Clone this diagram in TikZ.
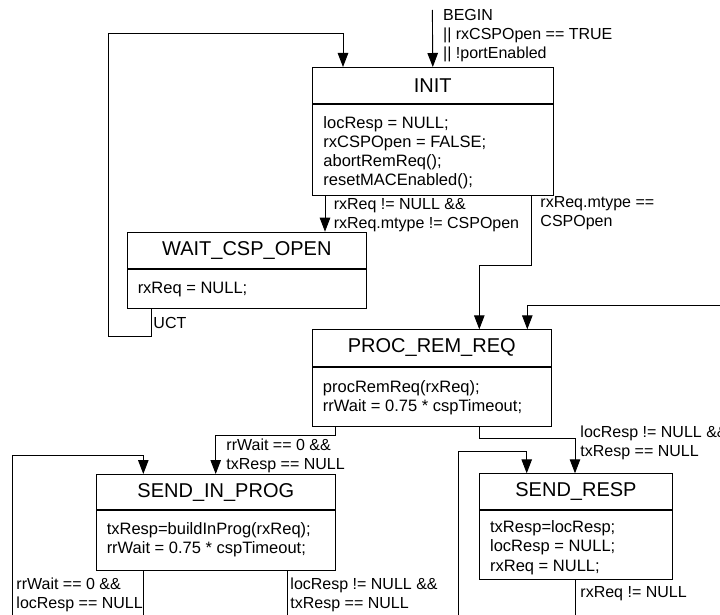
\documentclass[tikz,border=0pt]{standalone}
\usepackage{fontspec}
\setmainfont{Liberation Sans}
\usetikzlibrary{arrows.meta}
\begin{document}
\begin{tikzpicture}[x=1pt,y=-1pt,line width=0.9pt,
  hdr/.style={draw, anchor=north west, inner sep=0pt, font=\fontsize{20}{24}\selectfont},
  bodybox/.style={draw, anchor=north west, inner sep=0pt},
  btxt/.style={anchor=base west, inner sep=0pt, align=left, font=\fontsize{16.5}{19.2}\selectfont},
  lbl/.style={anchor=base west, inner sep=0pt, align=left, font=\fontsize{16}{19}\selectfont},
  arr/.style={-{Triangle[length=14pt,width=10.5pt]}}]
\useasboundingbox (0,0) rectangle (720,615);
% INIT
\node[hdr, minimum width=240.7pt, minimum height=36pt] (init) at (312,67) {INIT};
\node[bodybox, minimum width=240.7pt, minimum height=91pt] (initb) at (init.south west) {};
\node[btxt] (initt) at (323,185.8) {locResp = NULL;\\rxCSPOpen = FALSE;\\abortRemReq();\\resetMACEnabled();};
% WAIT_CSP_OPEN
\node[hdr, minimum width=239.3pt, minimum height=36pt] (wait) at (126.7,231.7) {WAIT\_CSP\_OPEN};
\node[bodybox, minimum width=239.3pt, minimum height=39pt] (waitb) at (wait.south west) {};
\node[btxt] (waitt) at (137.3,293.3) {rxReq = NULL;};
% PROC_REM_REQ
\node[hdr, minimum width=239.3pt, minimum height=36.4pt] (proc) at (311.7,329.3) {PROC\_REM\_REQ};
\node[bodybox, minimum width=239.3pt, minimum height=59.3pt] (procb) at (proc.south west) {};
\node[btxt] (proct) at (322.5,411.7) {procRemReq(rxReq);\\rrWait = 0.75 * cspTimeout;};
% SEND_IN_PROG
\node[hdr, minimum width=239.3pt, minimum height=35.3pt] (sip) at (95.7,474) {SEND\_IN\_PROG};
\node[bodybox, minimum width=239.3pt, minimum height=59.7pt] (sipb) at (sip.south west) {};
\node[btxt] (sipt) at (106.3,553.9) {txResp=buildInProg(rxReq);\\rrWait = 0.75 * cspTimeout;};
% SEND_RESP
\node[hdr, minimum width=192.4pt, minimum height=36pt] (sr) at (479.3,473.3) {SEND\_RESP};
\node[bodybox, minimum width=192.4pt, minimum height=69pt] (srb) at (sr.south west) {};
\node[btxt] (srt) at (489.7,571) {txResp=locResp;\\locResp = NULL;\\rxReq = NULL;};
% free ends
\coordinate (begin) at (432.35,10);
\coordinate (fromright) at (720,305);
\coordinate (leftin) at (12.7,615);
\coordinate (srin) at (458.3,615);
\coordinate (out1) at (143.3,615);
\coordinate (out2) at (287.3,615);
\coordinate (out3) at (575,615);
% connectors
\draw[arr] (begin) -- (init.north);
\draw[arr] (initb.south -| 325,0) -- (wait.north -| 325,0);
\draw[arr] (initb.south -| 531.7,0) |- (479.3,265) -- (proc.north -| 479.3,0);
\draw[arr] (fromright) -| (proc.north -| 527.3,0);
\draw[arr] (waitb.south -| 151,0) |- (108.7,336.7) |- (343,33) -- (init.north -| 343,0);
\draw[arr] (procb.south -| 335.5,0) |- (215.7,435) -- (sip.north -| 215.7,0);
\draw[arr] (procb.south -| 479.3,0) |- (575,438.3) -- (sr.north -| 575,0);
\draw[arr] (leftin) |- (143.3,455) -- (sip.north -| 143.3,0);
\draw[arr] (srin) |- (526.7,451) -- (sr.north -| 526.7,0);
\draw (sipb.south -| out1) -- (out1);
\draw (sipb.south -| out2) -- (out2);
\draw (srb.south -| out3) -- (out3);
% labels
\node[lbl] (lbegin) at (442.7,59) {BEGIN\\|| rxCSPOpen == TRUE\\|| !portEnabled};
\node[lbl] (lwait) at (333.3,228) {rxReq != NULL \&\&\\rxReq.mtype != CSPOpen};
\node[lbl] (lcsp) at (540,226) {rxReq.mtype ==\\CSPOpen};
\node[lbl] (luct) at (153,328.3) {UCT};
\node[lbl] (lsip) at (226,469.5) {rrWait == 0 \&\&\\txResp == NULL};
\node[lbl] (lsr) at (580,456.5) {locResp != NULL \&\&\\txResp == NULL};
\node[lbl] (lout1) at (16,608) {rrWait == 0 \&\&\\locResp == NULL};
\node[lbl] (lout2) at (290,608) {locResp != NULL \&\&\\txResp == NULL};
\node[lbl] (lout3) at (580,597.7) {rxReq != NULL};
\end{tikzpicture}
\end{document}
